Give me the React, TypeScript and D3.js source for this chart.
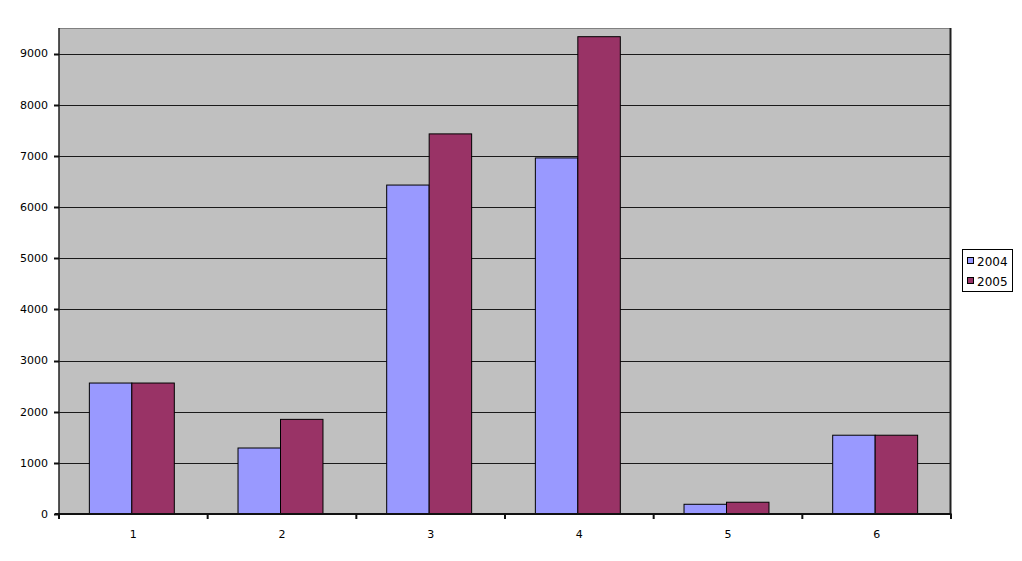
import React from "react";
import * as d3 from "d3";

const categories = ["1", "2", "3", "4", "5", "6"];
const seriesNames = ["2004", "2005"];
const values2004 = [2560, 1290, 6430, 6960, 190, 1540];
const values2005 = [2560, 1850, 7430, 9330, 230, 1540];
const yTicks = [0, 1000, 2000, 3000, 4000, 5000, 6000, 7000, 8000, 9000];
const colors = ["#9999ff", "#993366"];

export default function App() {
  const W = 1022, H = 561;
  const left = 59, right = 951, top = 28, bottom = 514;
  const x = d3.scaleBand<string>().domain(categories).range([left, right]);
  const y = d3.scaleLinear().domain([0, 9500]).range([bottom, top]);
  const bw = x.bandwidth() / 3.5;
  const series = [values2004, values2005];
  const font = "'DejaVu Sans', sans-serif";
  return (
    <svg width={W} height={H} style={{ position: "absolute", left: 0, top: 0 }}>
      <rect x={0} y={0} width={W} height={H} fill="#fff" />
      <rect x={left} y={top} width={right - left} height={bottom - top} fill="#c0c0c0" />
      <line x1={left} x2={right} y1={top + 0.5} y2={top + 0.5} stroke="#808080" strokeWidth={1} />
      {yTicks.filter(t => t > 0).map(t => (
        <line key={t} x1={left} x2={right} y1={Math.round(y(t)) + 0.5} y2={Math.round(y(t)) + 0.5} stroke="#1a1a1a" strokeWidth={1} />
      ))}
      {categories.map((c, i) =>
        series.map((s, j) => {
          const x0 = (x(c) as number) + bw * 0.75 - 1.5 + j * bw;
          return (
            <rect key={c + j} x={x0} y={y(s[i])} width={bw} height={bottom - y(s[i])}
              fill={colors[j]} stroke="#000" strokeWidth={1} />
          );
        })
      )}
      <line x1={left} x2={left} y1={top} y2={bottom} stroke="#202020" strokeWidth={1.5} />
      <line x1={right - 0.5} x2={right - 0.5} y1={top} y2={bottom} stroke="#202020" strokeWidth={2} />
      <line x1={left - 4} x2={right + 0.5} y1={bottom} y2={bottom} stroke="#111" strokeWidth={2} />
      {yTicks.map(t => (
        <g key={t}>
          <line x1={left - 5} x2={left} y1={Math.round(y(t)) + 0.5} y2={Math.round(y(t)) + 0.5} stroke="#111" strokeWidth={2} />
          <text x={left - 11} y={y(t)} dy="0.35em" textAnchor="end" fontFamily={font} fontSize={11} fill="#000">{t}</text>
        </g>
      ))}
      {[...categories.map(c => x(c) as number), right].map((v, i) => (
        <line key={i} x1={v} x2={v} y1={bottom} y2={bottom + 5} stroke="#111" strokeWidth={2} />
      ))}
      {categories.map(c => (
        <text key={c} x={(x(c) as number) + x.bandwidth() / 2} y={538} textAnchor="middle" fontFamily={font} fontSize={11} fill="#000">{c}</text>
      ))}
      <rect x={962.5} y={249.5} width={50} height={42} fill="#fff" stroke="#000" strokeWidth={1} />
      {seriesNames.map((n, i) => (
        <g key={n}>
          <rect x={967.5} y={257.5 + i * 20} width={6} height={6} fill={colors[i]} stroke="#000" strokeWidth={1} />
          <text x={977} y={262 + i * 20} dy="0.35em" fontFamily={font} fontSize={12} fill="#000">{n}</text>
        </g>
      ))}
    </svg>
  );
}
